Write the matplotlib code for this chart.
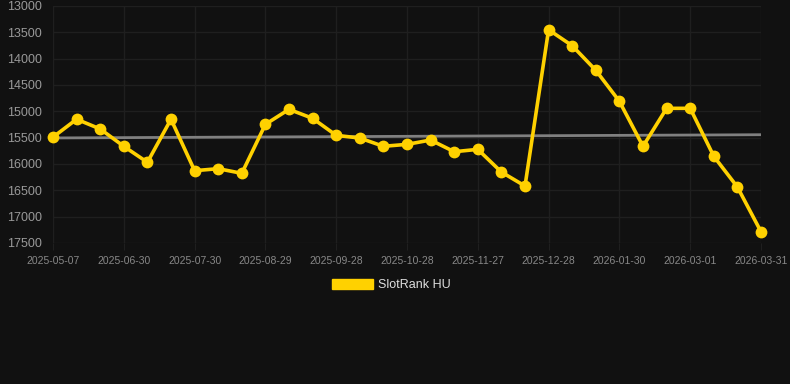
import numpy as np
import matplotlib
matplotlib.use("Agg")
import matplotlib.pyplot as plt
from matplotlib.patches import Patch

plt.rcParams['font.family'] = ['Liberation Sans', 'DejaVu Sans']

# rank values, one per observation (lower number = better rank, axis inverted)
ranks = [15490, 15150, 15335, 15664, 15968, 15150, 16127, 16089, 16177, 15247,
         14962, 15133, 15456, 15507, 15664, 15627, 15545, 15767, 15722, 16153,
         16418, 13450, 13754, 14221, 14810, 15664, 14943, 14943, 15854, 16437,
         17286]
tick_labels = ["2025-05-07", "2025-06-30", "2025-07-30", "2025-08-29", "2025-09-28",
               "2025-10-28", "2025-11-27", "2025-12-28", "2026-01-30", "2026-03-01",
               "2026-03-31"]
y_ticks = [13000, 13500, 14000, 14500, 15000, 15500, 16000, 16500, 17000, 17500]

bg = "#111111"
grid_col = "#1f1f1f"
gold = "#FFD100"

x = np.arange(len(ranks))
slope, icpt = np.polyfit(x, ranks, 1)
trend = slope * x + icpt

fig = plt.figure(figsize=(7.9, 3.84), dpi=100, facecolor=bg)
ax = fig.add_axes([53 / 790, 1 - 243 / 384, 708 / 790, 237 / 384], facecolor=bg)

ax.plot(x, trend, color="#808080", linewidth=2, zorder=2)
ax.plot(x, ranks, color=gold, linewidth=2.6, marker="o", markersize=8.5,
        markeredgewidth=0, zorder=3, clip_on=False)

ax.set_xlim(0, len(ranks) - 1)
ax.set_ylim(17500, 13000)
ax.set_yticks(y_ticks)
ax.set_yticklabels([str(v) for v in y_ticks])
ax.set_xticks(x[::3])
ax.set_xticklabels(tick_labels)

ax.grid(True, color=grid_col, linewidth=1)
for s in ax.spines.values():
    s.set_visible(False)
ax.tick_params(axis="y", length=0, pad=8, labelsize=9, labelcolor="#999999")
ax.tick_params(axis="x", length=5, color=grid_col, pad=4, labelsize=7.5,
               labelcolor="#888888")

fig.legend(handles=[Patch(facecolor=gold, edgecolor=gold, label="SlotRank HU")],
           loc="center", bbox_to_anchor=(391 / 790, 1 - 285 / 384), frameon=False,
           fontsize=9, labelcolor="#dddddd", handlelength=3.3, handleheight=0.8,
           handletextpad=0.4)

fig.savefig("out.png", dpi=100, facecolor=bg)
